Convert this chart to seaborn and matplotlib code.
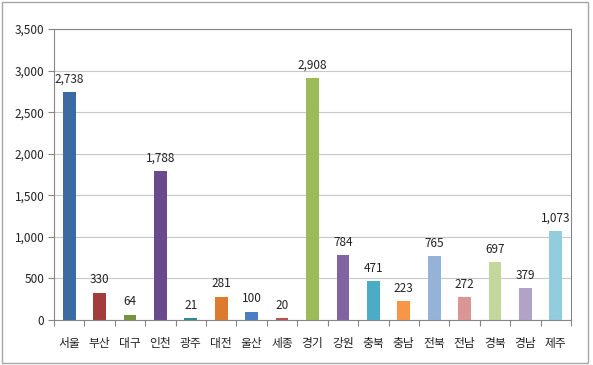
import matplotlib
matplotlib.use("Agg")
import matplotlib.pyplot as plt
import matplotlib.patches as mpatches
from matplotlib.ticker import FixedLocator, FuncFormatter
import seaborn as sns
import pandas as pd
import numpy as np

regions = ["서울", "부산", "대구", "인천", "광주", "대전", "울산", "세종", "경기",
           "강원", "충북", "충남", "전북", "전남", "경북", "경남", "제주"]
values = [2738, 330, 64, 1788, 21, 281, 100, 20, 2908,
          784, 471, 223, 765, 272, 697, 379, 1073]
colors = ["#3C6AA3", "#A33C3A", "#77933C", "#6A4A8C", "#2E8A9E", "#DE7A2E",
          "#4A7DC4", "#C0504D", "#9BBB59", "#8064A2", "#4BACC6", "#F79646",
          "#95B3D7", "#D99694", "#C3D69B", "#B2A2C7", "#93CDDD"]
yticks = [0, 500, 1000, 1500, 2000, 2500, 3000, 3500]

sns.set_theme(style="white")
plt.rcParams['font.family'] = ['Noto Sans CJK KR', 'DejaVu Sans']

df = pd.DataFrame({"region": regions, "value": values})

fig = plt.figure(figsize=(5.93, 3.65), dpi=100)
ax = fig.add_axes([54/593, 1-320/365, (571-54)/593, (320-29)/365])

sns.barplot(data=df, x="region", y="value", hue="region", palette=colors,
            legend=False, width=0.42, ax=ax, saturation=1, edgecolor="none")

for i, v in enumerate(values):
    ax.text(i, v + 75, f"{v:,}", ha="center", va="bottom", fontsize=8.5, color="#222222")

ax.set_ylim(0, 3500)
ax.set_xlim(-0.5, len(regions) - 0.5)
ax.set_yticks(yticks)
ax.yaxis.set_major_formatter(FuncFormatter(lambda v, p: f"{int(v):,}"))
ax.grid(axis="y", color="#C8C8C8", linewidth=0.8)
ax.set_axisbelow(True)
ax.set_xlabel("")
ax.set_ylabel("")

ax.tick_params(axis="y", left=True, length=4, width=0.8, color="#868686",
               labelsize=8.5, labelcolor="#222222", pad=3)
ax.tick_params(axis="x", which="major", bottom=False, labelsize=8.5,
               labelcolor="#222222", pad=6)
ax.xaxis.set_minor_locator(FixedLocator(np.arange(len(regions) + 1) - 0.5))
ax.tick_params(axis="x", which="minor", bottom=True, length=4, width=0.8,
               color="#868686")

for s in ["left", "bottom", "top", "right"]:
    ax.spines[s].set_visible(True)
    ax.spines[s].set_color("#868686")
    ax.spines[s].set_linewidth(0.8)

fig.patches.append(mpatches.Rectangle((2/593, 2/365), 586/593, 361/365,
                                      transform=fig.transFigure, fill=False,
                                      edgecolor="#A6A6A6", linewidth=1))

fig.savefig("out.png", dpi=100)
